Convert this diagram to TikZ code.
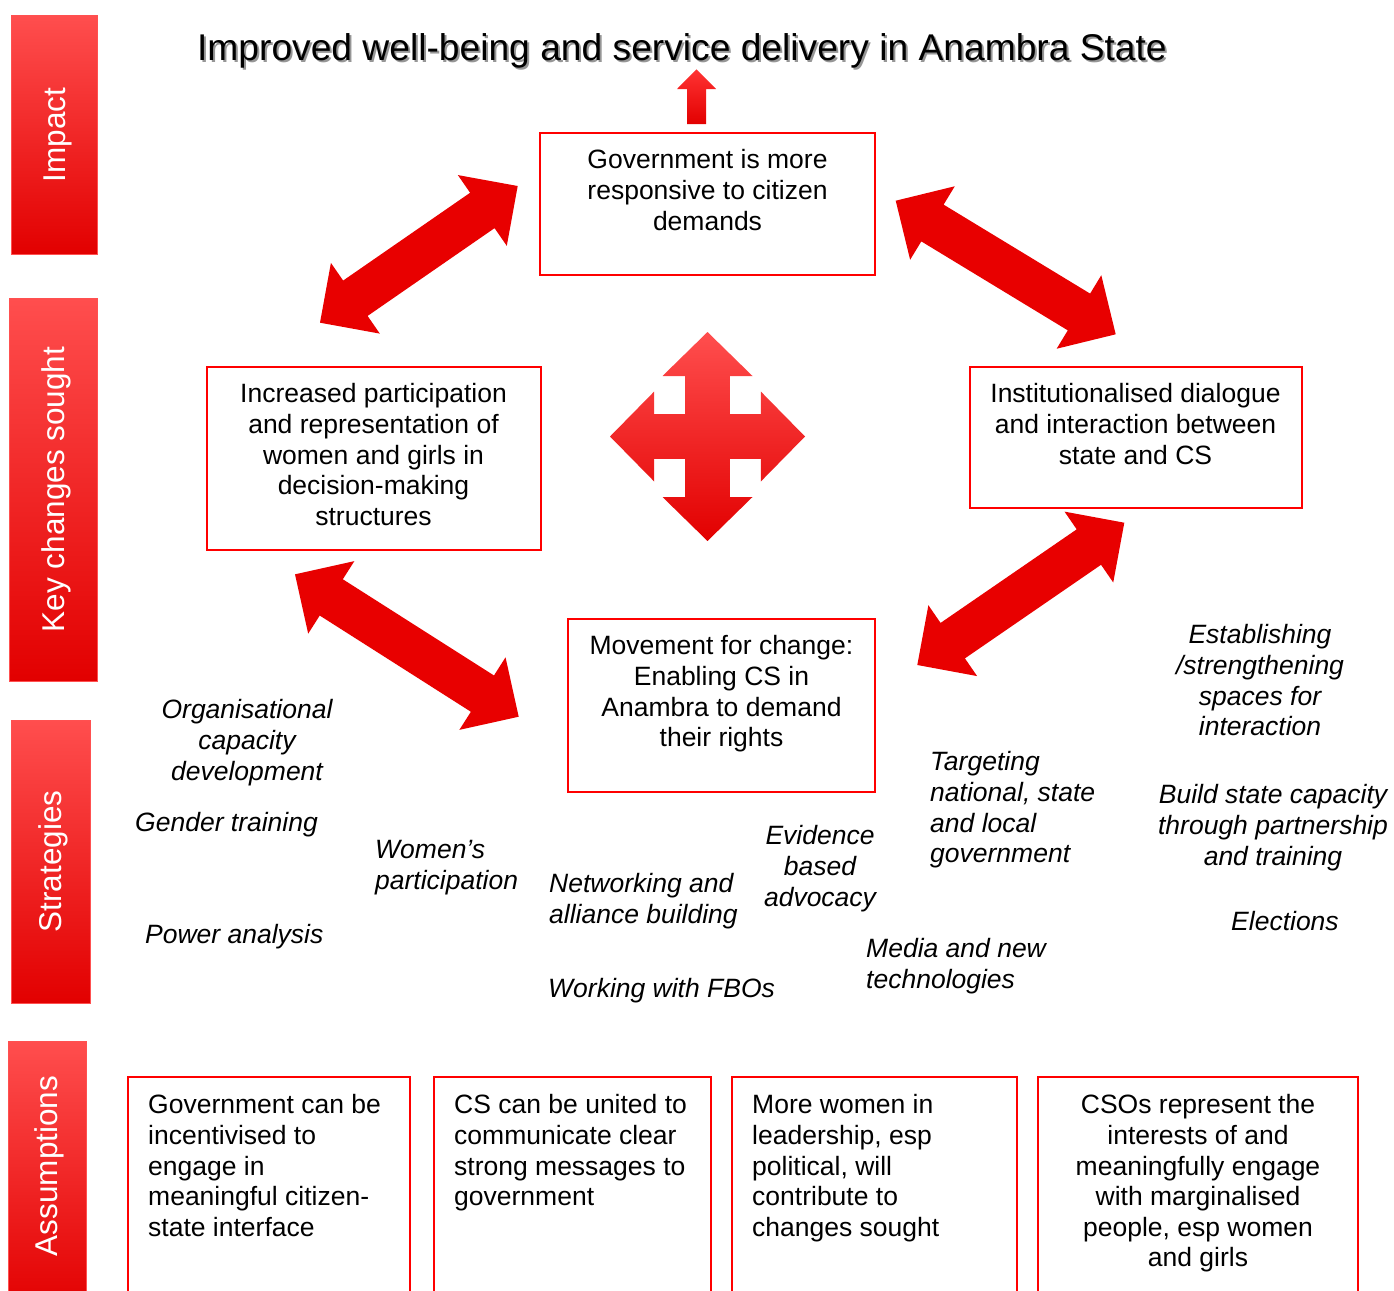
\documentclass[tikz,border=0pt]{standalone}
\usepackage{fontspec}
\setmainfont{Liberation Sans}
\usetikzlibrary{calc}

\definecolor{boxred}{RGB}{255,0,0}
\definecolor{arrowred}{RGB}{232,0,0}
\definecolor{barlight}{RGB}{255,78,78}
\definecolor{barmid}{RGB}{252,0,0}
\definecolor{bardark}{RGB}{226,0,0}
\definecolor{barline}{RGB}{255,80,80}
\definecolor{shadowgrey}{RGB}{150,150,150}

% two-headed block arrow between two named tip coordinates
\newcommand\blockarrow[3]{%
  \coordinate (#3h1) at ($(#1)!43pt!(#2)$);
  \coordinate (#3h2) at ($(#2)!43pt!(#1)$);
  \fill[arrowred] (#1)
    -- ($(#3h1)!43pt!90:(#2)$) -- ($(#3h1)!21.5pt!90:(#2)$)
    -- ($(#3h2)!21.5pt!-90:(#1)$) -- ($(#3h2)!43pt!-90:(#1)$)
    -- (#2)
    -- ($(#3h2)!43pt!90:(#1)$) -- ($(#3h2)!21.5pt!90:(#1)$)
    -- ($(#3h1)!21.5pt!-90:(#2)$) -- ($(#3h1)!43pt!-90:(#2)$)
    -- cycle;
}

\begin{document}
\begin{tikzpicture}[x=1pt, y=-1pt,
  every node/.style={inner sep=0pt, font=\fontsize{26.5}{30.6}\selectfont},
  box/.style={draw=boxred, line width=2pt, fill=white},
  bar/.style={draw=barline, line width=1pt, top color=barlight, middle color=barmid, bottom color=bardark},
  bartext/.style={text=white, rotate=90, font=\fontsize{31.5}{36}\selectfont},
  says/.style={align=center, anchor=north},
  sayleft/.style={align=left, anchor=north west},
  strat/.style={font=\fontsize{26.5}{30.6}\selectfont\itshape},
  titlefont/.style={font=\fontsize{37.2}{44}\selectfont, anchor=base}
]
\useasboundingbox (0,0) rectangle (1394,1290);

% ---- level bars on the left ----
\node[bar, minimum width=86pt, minimum height=238pt] (bImp) at (54,135) {};
\node[bartext] at ($(bImp)+(3.5,0)$) {Impact};
\node[bar, minimum width=88pt, minimum height=383pt] (bKey) at (53,489.5) {};
\node[bartext] at ($(bKey)+(3,0)$) {Key changes sought};
\node[bar, minimum width=79pt, minimum height=283pt] (bStr) at (50.5,861.5) {};
\node[bartext] at ($(bStr)+(2.5,0)$) {Strategies};
\node[bar, minimum width=78pt, minimum height=269pt] (bAss) at (47,1175.5) {};
\node[bartext] at (49.5,1166) {Assumptions};

% ---- impact statement ----
\node[titlefont, text=shadowgrey] at (684,63) {Improved well-being and service delivery in Anambra State};
\node[titlefont] (title) at (682,61) {Improved well-being and service delivery in Anambra State};

% ---- key changes ----
\node[box, minimum width=335pt, minimum height=142pt] (gov) at (707.5,204) {};
\node[says] at (707.5,149.5) {Government is more\\responsive to citizen\\demands};

\node[box, minimum width=334pt, minimum height=183pt] (part) at (374,458.5) {};
\node[says] at (373.5,383.5) {Increased participation\\and representation of\\women and girls in\\decision-making\\structures};

\node[box, minimum width=332pt, minimum height=141pt] (dial) at (1136,437.5) {};
\node[says] at (1135.5,383.5) {Institutionalised dialogue\\and interaction between\\state and CS};

\node[box, minimum width=307pt, minimum height=173pt] (move) at (721.5,705.5) {};
\node[says] at (721.5,635.5) {Movement for change:\\Enabling CS in\\Anambra to demand\\their rights};

% ---- arrow up to the impact ----
\coordinate (upfoot) at (696.5,124);
\shade[top color=red!80!white, bottom color=bardark]
  ($(upfoot)+(-9.5,0)$) -- ++(0,-35) -- ++(-10,0) -- (696.5,69.3) -- (716,89)
  -- ++(-10,0) -- ($(upfoot)+(9.5,0)$) -- cycle;

% ---- four-way arrow in the middle ----
\begin{scope}[shift={(707.5,436.5)}]
\shade[top color=barlight, middle color=barmid, bottom color=bardark]
  (0,-104.5) -- (45,-60.5) -- (22.3,-60.5) -- (22.3,-22.3) -- (53.3,-22.3)
  -- (53.3,-45) -- (97.5,0) -- (53.3,45) -- (53.3,22.3) -- (22.3,22.3)
  -- (22.3,60.5) -- (45,60.5) -- (0,104.5) -- (-45,60.5) -- (-22.3,60.5)
  -- (-22.3,22.3) -- (-53.3,22.3) -- (-53.3,45) -- (-97.5,0) -- (-53.3,-45)
  -- (-53.3,-22.3) -- (-22.3,-22.3) -- (-22.3,-60.5) -- (-45,-60.5) -- cycle;
\end{scope}

% ---- two-headed arrows between the key changes ----
\coordinate (a1p) at (320,322.7);   \coordinate (a1g) at (517.7,186);
\coordinate (a2g) at (895.7,200.7); \coordinate (a2d) at (1115.7,334.3);
\coordinate (a3p) at (295,574.3);   \coordinate (a3m) at (518.7,716.7);
\coordinate (a4m) at (917.3,665);   \coordinate (a4d) at (1124.3,522.7);
\blockarrow{a1p}{a1g}{ba}
\blockarrow{a2g}{a2d}{bb}
\blockarrow{a3p}{a3m}{bc}
\blockarrow{a4m}{a4d}{bd}

% ---- strategies ----
\node[strat, says] at (247,699.5) {Organisational\\capacity\\development};
\node[strat, sayleft] at (135,812.5) {Gender training};
\node[strat, sayleft] at (145,924.5) {Power analysis};
\node[strat, sayleft] at (375,840.5) {Women’s\\participation};
\node[strat, sayleft] at (549,873.5) {Networking and\\alliance building};
\node[strat, sayleft] at (548,978.5) {Working with FBOs};
\node[strat, says] at (820,825.5) {Evidence\\based\\advocacy};
\node[strat, sayleft] at (930,751.5) {Targeting\\national, state\\and local\\government};
\node[strat, sayleft] at (866,938.5) {Media and new\\technologies};
\node[strat, says] at (1260,624.5) {Establishing\\/strengthening\\spaces for\\interaction};
\node[strat, says] at (1273,784.5) {Build state capacity\\through partnership\\and training};
\node[strat, sayleft] at (1231,911.5) {Elections};

% ---- assumptions ----
\node[box, minimum width=282pt, minimum height=233pt] (as1) at (269,1193.5) {};
\node[sayleft] at (148,1094.5) {Government can be\\incentivised to\\engage in\\meaningful citizen-\\state interface};
\node[box, minimum width=277pt, minimum height=233pt] (as2) at (572.5,1193.5) {};
\node[sayleft] at (454,1094.5) {CS can be united to\\communicate clear\\strong messages to\\government};
\node[box, minimum width=285pt, minimum height=233pt] (as3) at (874.5,1193.5) {};
\node[sayleft] at (752,1094.5) {More women in\\leadership, esp\\political, will\\contribute to\\changes sought};
\node[box, minimum width=320pt, minimum height=233pt] (as4) at (1198,1193.5) {};
\node[says] at (1198,1094.5) {CSOs represent the\\interests of and\\meaningfully engage\\with marginalised\\people, esp women\\and girls};
\end{tikzpicture}
\end{document}
